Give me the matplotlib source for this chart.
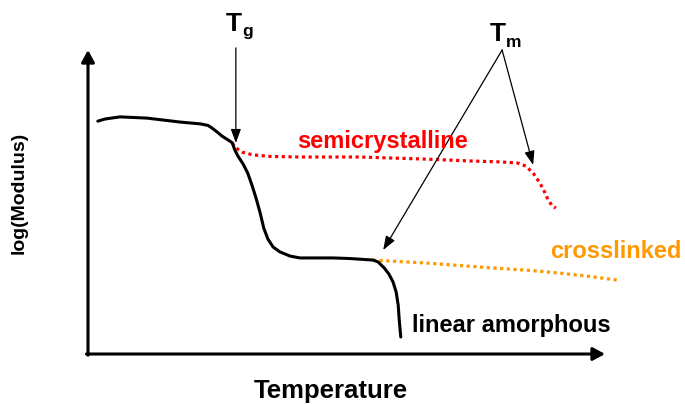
import matplotlib.pyplot as plt

plt.rcParams['font.family'] = ['Liberation Sans', 'DejaVu Sans']

# values: temperature (0-100) vs log(modulus) (0-10)
amorph_t = [1.9, 3.3, 6.2, 11.4, 17.8, 21.7, 23.2, 24.0, 25.0, 25.9, 27.1, 27.9,
            28.4, 29.0, 30.0, 30.9, 31.7, 32.5, 33.3, 34.0, 34.8, 35.8, 37.1,
            39.1, 41.0, 47.4, 50.7, 55.1, 56.1, 57.3, 58.2, 59.0, 59.6, 60.0,
            60.2, 60.5]
amorph_m = [7.66, 7.73, 7.80, 7.76, 7.63, 7.57, 7.52, 7.43, 7.30, 7.17, 7.04, 6.95,
            6.71, 6.51, 6.25, 5.95, 5.56, 5.13, 4.64, 4.14, 3.78, 3.52, 3.36,
            3.22, 3.16, 3.16, 3.14, 3.09, 3.03, 2.83, 2.63, 2.37, 2.04, 1.61,
            1.12, 0.56]

semi_t = [27.9, 28.6, 29.8, 31.9, 35.2, 41.0, 52.6, 65.6, 73.9, 79.7, 83.2, 84.7,
          86.1, 87.4, 88.4, 89.0, 89.8, 90.5]
semi_m = [6.94, 6.78, 6.64, 6.55, 6.50, 6.48, 6.48, 6.41, 6.35, 6.32, 6.28, 6.18,
          5.95, 5.63, 5.30, 5.07, 4.87, 4.80]

cross_t = [55.1, 60.3, 65.6, 72.0, 78.3, 85.5, 91.3, 97.1, 102.5]
cross_m = [3.09, 3.04, 2.99, 2.91, 2.83, 2.75, 2.66, 2.55, 2.43]

tg_point = (28.6, 6.94)
tm_points = [(57.1, 3.42), (86.1, 6.22)]

fig = plt.figure(figsize=(6.85, 4.04), dpi=100)
ax = fig.add_axes([88 / 685, 50 / 404, 517 / 685, 304 / 404])
ax.set_xlim(0, 100)
ax.set_ylim(0, 10)
ax.axis('off')

# axes drawn as arrows
arrow_kw = dict(arrowstyle='-|>,head_length=0.55,head_width=0.3', lw=2.2,
                color='black', mutation_scale=13, shrinkA=0, shrinkB=0)
ax.annotate('', xy=(0, 1), xytext=(0, -0.004), xycoords='axes fraction',
            arrowprops=arrow_kw)
ax.annotate('', xy=(1, 0), xytext=(-0.003, 0), xycoords='axes fraction',
            arrowprops=arrow_kw)

ax.plot(semi_t, semi_m, color='#ff0000', lw=2.3, ls=(0, (1, 1.1)),
        dash_capstyle='butt', clip_on=False)
ax.plot(cross_t, cross_m, color='#ff9900', lw=2.3, ls=(0, (1, 1.1)),
        dash_capstyle='butt', clip_on=False)
ax.plot(amorph_t, amorph_m, color='black', lw=2.2, solid_capstyle='round',
        solid_joinstyle='round', clip_on=False)

thin = dict(arrowstyle='-|>,head_length=0.6,head_width=0.22', lw=0.9,
            color='black', mutation_scale=14, shrinkA=0, shrinkB=0)
ax.annotate('', xy=tg_point, xytext=(28.6, 10.07), arrowprops=thin,
            annotation_clip=False)
for p in tm_points:
    ax.annotate('', xy=p, xytext=(80.1, 10.0), arrowprops=thin,
                annotation_clip=False)

bold = dict(fontweight='bold', clip_on=False)
ax.text(26.6, 10.62, 'T', fontsize=19, va='baseline', **bold)
ax.text(29.9, 10.45, 'g', fontsize=12.5, va='baseline', **bold)
ax.text(77.8, 10.3, 'T', fontsize=19, va='baseline', **bold)
ax.text(80.9, 10.1, 'm', fontsize=12.5, va='baseline', **bold)

ax.text(40.4, 6.78, 'semicrystalline', fontsize=17, color='#ff0000',
        va='baseline', **bold)
ax.text(89.4, 3.16, 'crosslinked', fontsize=17, color='#ff9900',
        va='baseline', **bold)
ax.text(62.7, 0.72, 'linear amorphous', fontsize=17, color='black',
        va='baseline', **bold)

fig.text(331 / 685, 1 - 398 / 404, 'Temperature', fontsize=18.5,
         fontweight='bold', ha='center', va='baseline')
fig.text(19 / 685, 1 - 193 / 404, 'log(Modulus)', fontsize=14,
         fontweight='bold', ha='center', va='center', rotation=90)

fig.savefig('out.png', dpi=100)
